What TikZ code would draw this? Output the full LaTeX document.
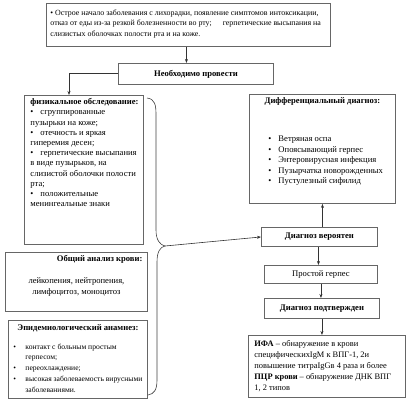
\documentclass[tikz,border=0pt]{standalone}
\usepackage{fontspec}
\setmainfont{Liberation Serif}
\usetikzlibrary{arrows.meta}
\tikzset{
  box/.style={draw=black!60, line width=0.9pt, inner xsep=#1, inner ysep=0pt, anchor=north west, font=\fontsize{8.6}{10.2}\selectfont},
  box/.default=4pt,
  arr/.style={line width=0.6pt, draw=black!80, -{Stealth[length=4pt,width=3pt]}},
  brace/.style={line width=0.6pt, draw=black!75}
}
\newcommand\bul{\makebox[10pt][l]{\textbullet}}
\newcommand\lin[1]{\mbox{#1}}
\begin{document}
\begin{tikzpicture}[x=1pt,y=-1pt]
\useasboundingbox (0,0) rectangle (406,400);
% top box
\node[box] (top) at (46,3) {\parbox[c][43pt][t]{276pt}{\vspace*{6pt}\raggedright\fontsize{7.9}{10.5}\selectfont
\lin{\textbullet\ Острое начало заболевания с лихорадки, появление симптомов интоксикации,}\\
\lin{отказ от еды из-за резкой болезненности во рту;\hspace{11pt}герпетические высыпания на}\\
\lin{слизистых оболочках полости рта и на коже.}}};
% need
\node[box, minimum width=155pt, minimum height=21pt, inner xsep=0pt] (need) at (118,63) {\textbf{Необходимо провести}};
% physical exam
\node[box=6pt] (phys) at (24,95) {\parbox[c][149pt][t]{107pt}{\vspace*{3pt}\raggedright
\lin{\textbf{физикальное обследование:}}\\
\lin{\bul сгруппированные}\\
\lin{пузырьки на коже;}\\
\lin{\bul отечность и яркая}\\
\lin{гиперемия десен;}\\
\lin{\bul герпетические высыпания}\\
\lin{в виде пузырьков, на}\\
\lin{слизистой оболочки полости}\\
\lin{рта;}\\
\lin{\bul положительные}\\
\lin{менингеальные знаки}}};
% differential
\node[box=6pt] (diff) at (249,94) {\parbox[c][109pt][t]{134pt}{\vspace*{3pt}
\centerline{\textbf{Дифференциальный диагноз:}}\par
\vspace*{28pt}\raggedright\leftskip=13pt\baselineskip=10.5pt
\lin{\bul Ветряная оспа}\\
\lin{\bul Опоясывающий герпес}\\
\lin{\bul Энтеровирусная инфекция}\\
\lin{\bul Пузырчатка новорожденных}\\
\lin{\bul Пустулезный сифилид}}};
% probable
\node[box, minimum width=116pt, minimum height=19pt, inner xsep=0pt] (prob) at (261,227) {\textbf{Диагноз вероятен}};
\node[box, minimum width=113pt, minimum height=18pt, inner xsep=0pt] (simple) at (264,265) {Простой герпес};
\node[box, minimum width=115pt, minimum height=20pt, inner xsep=0pt] (conf) at (264,298) {\textbf{Диагноз подтвержден}};
% IFA
\node[box=6pt] (ifa) at (248,335) {\parbox[c][62pt][t]{145pt}{\vspace*{5pt}\raggedright\fontsize{8.4}{11}\selectfont
\lin{\textbf{ИФА} – обнаружение в крови}\\
\lin{специфическихIgM к ВПГ-1, 2и}\\
\lin{повышение титраIgGв 4 раза и более}\\
\lin{\textbf{ПЦР крови} – обнаружение ДНК ВПГ}\\
\lin{1, 2 типов}}};
% blood
\node[box=5pt] (blood) at (5,252) {\parbox[c][59pt][t]{132pt}{\vspace*{3pt}
{\raggedleft\textbf{Общий анализ крови:}\par}
\vspace*{10pt}\centering\baselineskip=11.5pt
лейкопения, нейтропения,\\
лимфоцитоз, моноцитоз}};
% epid
\node[box=5pt] (epid) at (8,320) {\parbox[c][78pt][t]{129pt}{\vspace*{4pt}
{\centering\textbf{Эпидемиологический анамнез:}\par}
\vspace*{8pt}\raggedright\leftskip=12pt\fontsize{7.6}{10.8}\selectfont
\lin{\hspace*{-12pt}\makebox[12pt][l]{\textbullet}контакт с больным простым}\\
\lin{герпесом;}\\
\lin{\hspace*{-12pt}\makebox[12pt][l]{\textbullet}переохлаждение;}\\
\lin{\hspace*{-12pt}\makebox[12pt][l]{\textbullet}высокая заболеваемость вирусными}\\
\lin{заболеваниями.}}};
% connectors
\draw[arr] ([xshift=-2pt]top.south) -- ([xshift=-2pt]top.south |- need.north);
\coordinate (bend) at (69,73);
\draw[arr] (need.west |- bend) -- (bend) -- (bend |- phys.north);
\coordinate (tip) at (165,246);
\draw[brace] (147,98) .. controls (155,99) and (156,105) .. (156,115)
  -- (156,230) .. controls (156,240) and (160,245) .. (tip)
  .. controls (160,247) and (157,252) .. (157,262)
  -- (157,380) .. controls (157,390) and (154,394) .. (148,395);
\draw[arr] (tip) -- (prob.west);
\draw[arr] ([xshift=3pt]prob.north) -- ([xshift=3pt]prob.north |- diff.south);
\draw[arr] ([xshift=-1pt]prob.south) -- ([xshift=-1pt]prob.south |- simple.north);
\draw[arr] (simple.south) -- (simple.south |- conf.north);
\draw[arr] (conf.south) -- (conf.south |- ifa.north);
\end{tikzpicture}
\end{document}
